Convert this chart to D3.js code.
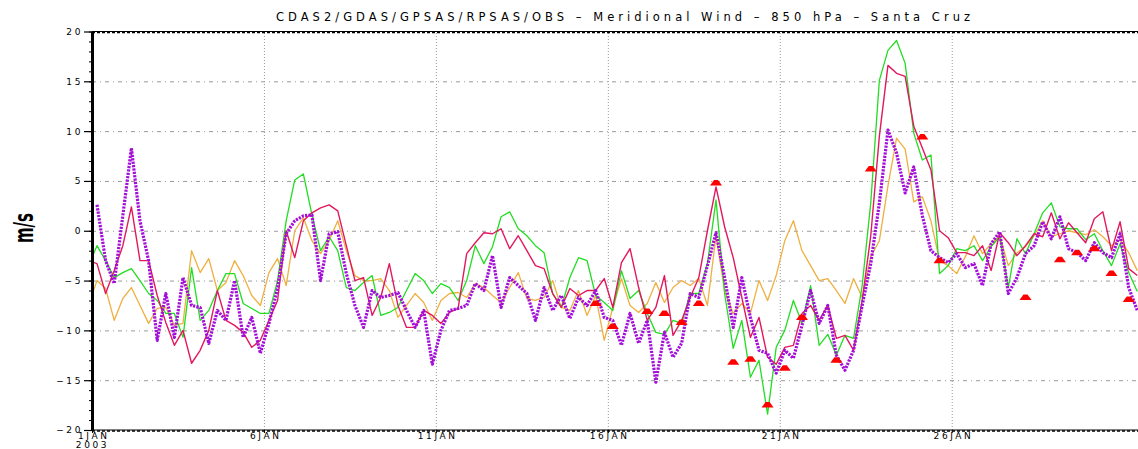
<!DOCTYPE html>
<html>
<head>
<meta charset="utf-8">
<script src="https://cdn.jsdelivr.net/npm/d3@7"></script>
<style>
  body { margin: 0; background: #fff; }
  svg { display: block; }
  text { font-family: "DejaVu Sans", sans-serif; }
</style>
</head>
<body>
<svg id="chart" width="1138" height="449"></svg>
<script>
let title = 'CDAS2/GDAS/GPSAS/RPSAS/OBS – Meridional Wind – 850 hPa – Santa Cruz'

// 6-hourly values, first one at 31 Dec 21:30 UTC
let firstTime = Date.UTC(2002, 11, 31, 21, 30),
    stepHours = 6

let dayTicks = [1, 6, 11, 16, 21, 26]
let yTicks = [-20, -15, -10, -5, 0, 5, 10, 15, 20]

// green
let cdas2 = [
  -3.5, -1.5, -3.0, -4.7, -4.2, -3.8, -5.0, -6.3, -7.0, -8.3,
  -8.3, -10.7, -3.7, -9.0, -8.0, -6.0, -4.3, -4.3, -7.3, -7.8,
  -8.3, -8.3, -5.0, 1.0, 5.1, 5.7, 1.6, -2.0, -0.6, -2.0,
  -5.7, -6.0, -5.2, -4.5, -8.5, -8.2, -7.7, -6.0, -4.3, -5.0,
  -6.3, -5.3, -5.7, -7.0, -5.0, -1.5, -3.3, -1.6, 1.4, 1.9,
  0.2, -0.5, -1.5, -2.2, -6.3, -7.7, -4.7, -2.7, -3.0, -6.5,
  -7.2, -8.0, -4.0, -6.8, -6.0, -8.3, -10.2, -10.4, -9.0, -9.3,
  -6.3, -6.3, -3.3, 3.1, -6.3, -11.8, -9.0, -14.7, -13.0, -18.4,
  -11.7, -10.0, -7.0, -9.3, -5.5, -11.5, -10.4, -12.5, -10.5, -10.8,
  -5.5, 2.8, 15.1, 18.1, 19.1, 16.8, 9.8, 7.1, 7.6, -4.3,
  -3.5, -1.8, -2.0, -1.5, -3.0, -1.6, -0.6, -5.7, -0.8, -2.3,
  -0.3, 1.8, 2.8, 0.4, 0.2, 0.2, -0.9, -0.3, -2.0, -3.5,
  -1.3, -4.2, -6.1
]

// crimson
let gdas = [
  -3.0, -3.3, -6.3, -4.0, -1.5, 2.4, -3.0, -3.0, -6.5, -9.2,
  -11.5, -10.0, -13.3, -12.0, -10.0, -6.0, -9.0, -9.5, -10.2, -11.7,
  -11.0, -9.0, -7.0, 0.0, -2.7, 1.0, 1.8, 2.3, 2.6, 2.0,
  -1.5, -5.0, -4.7, -8.5, -6.7, -3.3, -7.5, -9.7, -9.7, -8.0,
  -8.5, -9.3, -8.2, -7.8, -2.3, -1.2, -0.2, -0.3, 0.2, -1.8,
  -0.5, -2.0, -3.5, -3.8, -6.3, -7.7, -5.8, -6.5, -6.0, -6.0,
  -4.8, -7.7, -3.2, -1.8, -5.7, -9.0, -7.7, -4.5, -10.5, -9.0,
  -6.7, -4.7, 0.0, 4.4, 0.4, -2.7, -6.7, -10.7, -8.7, -12.7,
  -13.4, -11.7, -11.5, -8.3, -7.5, -9.0, -7.5, -10.8, -10.5, -12.0,
  -7.0, -0.5, 9.5, 16.6, 15.8, 15.5, 10.5, 8.3, 6.1, 0.0,
  -0.7, -2.2, -2.2, -2.5, -1.5, -4.0, -0.2, -1.2, -2.5, -1.5,
  -0.3, -0.6, 1.8, -0.8, 0.8, -0.2, -1.2, 1.2, 1.9, -2.0,
  0.9, -3.8, -4.5
]

// orange
let gpsas = [
  -7.5, -5.0, -5.8, -9.0, -6.8, -5.7, -7.5, -9.3, -7.8, -7.7,
  -9.5, -9.3, -2.0, -4.2, -2.8, -6.0, -5.2, -3.0, -4.5, -6.5,
  -7.5, -4.2, -2.8, -5.5, 0.0, 1.3, -1.0, -2.3, -1.0, 1.0,
  -2.0, -4.5, -5.0, -5.0, -4.8, -6.0, -8.7, -7.5, -6.3, -7.2,
  -9.0, -7.0, -6.3, -6.2, -6.7, -5.3, -5.7, -6.5, -7.2, -5.7,
  -4.2, -6.8, -7.0, -6.7, -5.0, -7.7, -8.0, -6.0, -8.5, -6.5,
  -11.0, -7.7, -4.8, -7.5, -8.2, -7.3, -5.2, -7.2, -5.7, -5.0,
  -5.5, -4.8, -7.5, -0.5, -6.0, -8.3, -7.3, -8.3, -5.0, -7.0,
  -4.5, -1.0, 1.0, -2.0, -3.5, -5.0, -4.8, -6.0, -7.3, -4.8,
  -6.7, -2.6, -1.0, 4.5, 9.3, 8.2, 2.9, 3.4, 1.0, -3.0,
  -3.5, -4.3, -2.6, -0.5, -2.3, -1.3, -0.5, -3.5, -2.2, -1.6,
  -0.5, 1.0, -0.6, -0.3, 0.0, -0.2, -0.4, 0.1, -0.6, -1.5,
  -0.9, -2.2, -4.0
]

// purple, dotted
let rpsas = [
  null, 2.6, -3.0, -5.3, 1.5, 8.3, 1.0, -3.0, -11.0, -6.3,
  -10.7, -4.7, -7.5, -7.7, -11.3, -8.0, -9.0, -5.0, -10.7, -8.7,
  -12.3, -9.3, -5.8, -0.3, 1.0, 1.5, 1.6, -5.0, -0.3, -0.1,
  -4.3, -7.5, -9.7, -6.0, -6.7, -6.5, -6.2, -8.0, -9.7, -8.0,
  -13.4, -10.0, -8.0, -7.8, -7.5, -5.3, -6.0, -2.5, -7.7, -4.7,
  -5.5, -6.3, -9.0, -5.7, -8.0, -6.5, -8.8, -6.7, -7.5, -6.0,
  -8.7, -9.0, -11.5, -8.3, -11.3, -9.0, -15.2, -10.2, -12.7, -11.3,
  -6.3, -6.7, -3.5, -0.2, -4.7, -9.7, -4.7, -8.7, -12.0, -12.3,
  -14.3, -12.0, -12.8, -9.5, -6.0, -9.3, -7.5, -12.5, -14.0, -12.0,
  -7.5, -3.3, 2.8, 10.1, 7.8, 3.8, 6.4, 1.5, -2.0, -2.7,
  -3.2, -2.3, -3.7, -3.3, -5.5, -1.3, -0.1, -6.3, -4.7, -2.3,
  -1.5, 0.9, -0.8, 1.4, -1.8, -2.2, -3.0, -1.2, -2.2, -2.7,
  -0.3, -5.7, -8.0
]

// soundings: index in the 6-hourly steps, and value
let obsStep = [59, 61, 65, 67, 69, 71, 73, 75, 77, 79, 81, 83, 87, 91, 97, 99, 109, 113, 115, 117, 119, 121]
let obsValue = [-7.3, -9.6, -8.1, -8.3, -9.2, -7.3, 4.8, -13.2, -12.9, -17.5, -13.8, -8.7, -13.0, 6.2, 9.4, -3.0, -6.7, -2.9, -2.2, -1.8, -4.3, -6.9]

let plotLeft = 92,
    plotRight = 1138,
    plotTop = 31.5,
    plotBottom = 430

let timeAt = function(k) {
    return new Date(firstTime + k * stepHours * 3600e3)
}

let x = d3.scaleUtc()
    .domain([new Date(Date.UTC(2003, 0, 1)), new Date(Date.UTC(2003, 0, 31, 10))])
    .range([plotLeft, plotRight])
let y = d3.scaleLinear().domain([-20, 20]).range([plotBottom, plotTop])

let svg = d3.select('#chart')

svg.append('defs').append('clipPath').attr('id', 'plot')
    .append('rect')
    .attr('x', plotLeft).attr('y', 0)
    .attr('width', plotRight - plotLeft).attr('height', plotBottom)

// grid
let hGrid = svg.append('g')
    .attr('transform', 'translate(' + plotLeft + ',0)')
    .call(d3.axisLeft(y).tickValues(yTicks.slice(1, -1)).tickSize(-(plotRight - plotLeft)).tickFormat(''))
hGrid.select('.domain').remove()
hGrid.selectAll('line').attr('stroke', '#9a9a9a').attr('stroke-dasharray', '4,4,1,4')

let dayDates = dayTicks.map(function(d) { return new Date(Date.UTC(2003, 0, d)) })

let vGrid = svg.append('g')
    .attr('transform', 'translate(0,' + plotBottom + ')')
    .call(d3.axisBottom(x).tickValues(dayDates.slice(1)).tickSize(-(plotBottom - plotTop)).tickFormat(''))
vGrid.select('.domain').remove()
vGrid.selectAll('line').attr('stroke', '#9a9a9a').attr('stroke-dasharray', '1,2')

// lines
let line = d3.line()
    .defined(function(d) { return d != null })
    .x(function(d, i) { return x(timeAt(i)) })
    .y(function(d) { return y(d) })

let lines = svg.append('g').attr('clip-path', 'url(#plot)')

let series = [
    { data: gpsas, color: '#efb040', width: 1.3, dash: null },
    { data: cdas2, color: '#22dd22', width: 1.3, dash: null },
    { data: gdas, color: '#e2185f', width: 1.4, dash: null },
    { data: rpsas, color: '#a30fd8', width: 3.2, dash: '2.2,1.2' }
]

series.forEach(function(s) {
    lines.append('path')
        .datum(s.data)
        .attr('d', line)
        .attr('fill', 'none')
        .attr('stroke', s.color)
        .attr('stroke-width', s.width)
        .attr('stroke-linejoin', 'round')
        .attr('stroke-dasharray', s.dash)
})

// OBS triangles
lines.selectAll('.obs')
    .data(obsStep)
    .enter().append('path')
    .attr('class', 'obs')
    .attr('d', 'M-6,2.5L-2,-3L2,-3L6,2.5Z')
    .attr('transform', function(d, i) {
        return 'translate(' + x(timeAt(d)) + ',' + y(obsValue[i]) + ')'
    })
    .attr('fill', '#ff0000')

// frame top and bottom: thin line with a dashed band
;[plotTop, plotBottom].forEach(function(yy) {
    svg.append('line')
        .attr('x1', plotLeft).attr('x2', plotRight)
        .attr('y1', yy).attr('y2', yy)
        .attr('stroke', '#000').attr('stroke-width', 1)
    svg.append('line')
        .attr('x1', plotLeft).attr('x2', plotRight)
        .attr('y1', yy + 1).attr('y2', yy + 1)
        .attr('stroke', '#000').attr('stroke-width', 1.6)
        .attr('stroke-dasharray', '3,2')
})

// y axis
let yMinor = svg.append('g')
    .attr('transform', 'translate(' + plotLeft + ',0)')
    .call(d3.axisLeft(y).ticks(40).tickSize(3).tickFormat(''))
yMinor.select('.domain').remove()

let yAxis = svg.append('g')
    .attr('transform', 'translate(' + plotLeft + ',0)')
    .call(d3.axisLeft(y).tickValues(yTicks).tickSize(8).tickSizeOuter(0).tickPadding(1)
        .tickFormat(function(d) { return d < 0 ? '−' + Math.abs(d) : d }))
yAxis.select('.domain').attr('stroke-width', 3)
yAxis.selectAll('line').attr('stroke-width', 1.2)
yAxis.selectAll('text')
    .attr('font-size', 9)
    .attr('letter-spacing', 2.6)
    .attr('fill', '#000')

// x axis
let xAxis = svg.append('g')
    .attr('transform', 'translate(0,' + plotBottom + ')')
    .call(d3.axisBottom(x).tickValues(dayDates).tickSize(3).tickSizeOuter(0).tickPadding(0)
        .tickFormat(function(d) { return d.getUTCDate() + 'JAN' }))
xAxis.select('.domain').remove()
xAxis.selectAll('text')
    .attr('font-size', 9)
    .attr('letter-spacing', 2.6)
    .attr('dx', 1.3)
    .attr('fill', '#000')
xAxis.select('.tick text')
    .append('tspan')
    .attr('x', 0).attr('dy', '1.0em')
    .text('2003')

// labels
svg.append('text')
    .attr('transform', 'translate(33,228) rotate(-90)')
    .attr('text-anchor', 'middle')
    .attr('font-size', 27)
    .attr('font-weight', 'bold')
    .attr('textLength', 30)
    .attr('lengthAdjust', 'spacingAndGlyphs')
    .text('m/s')

svg.append('text')
    .attr('x', 276)
    .attr('y', 21)
    .attr('font-size', 11.5)
    .attr('textLength', 694)
    .attr('lengthAdjust', 'spacing')
    .text(title)
</script>
</body>
</html>
